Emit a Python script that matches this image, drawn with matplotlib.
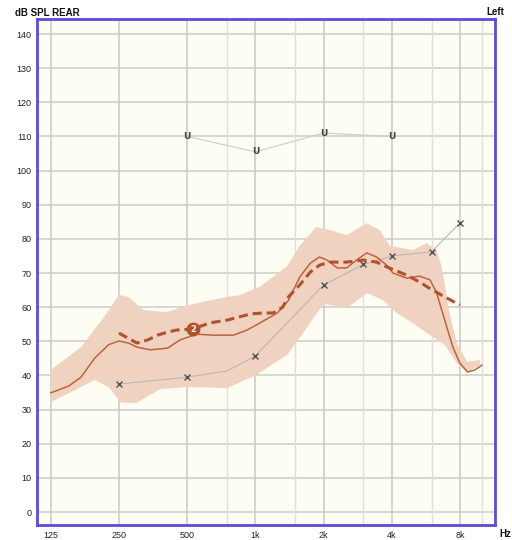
import numpy as np
import matplotlib
matplotlib.use("Agg")
from matplotlib import pyplot as plt

# ---- data ----
octave_ticks = [125, 250, 500, 1000, 2000, 4000, 8000]
octave_labels = ["125", "250", "500", "1k", "2k", "4k", "8k"]
half_octaves = [750, 1500, 3000, 6000, 10000]
db_ticks = list(range(0, 150, 10))

# uncomfortable levels (U)
ucl_f = [500, 1000, 2000, 4000]
ucl_db = [110, 105.5, 111, 110]

# thresholds (x) - 750 Hz is a bend point without marker
thr_f = [250, 500, 750, 1000, 2000, 3000, 4000, 6000, 8000]
thr_db = [37.5, 39.5, 41.3, 45.7, 66.5, 72.5, 75, 76.2, 84.7]
thr_marker_f = [250, 500, 1000, 2000, 3000, 4000, 6000, 8000]
thr_marker_db = [37.5, 39.5, 45.7, 66.5, 72.5, 75, 76.2, 84.7]

# measured response (solid)
meas_f = [125, 150, 170, 195, 225, 250, 275, 300, 345, 410, 465, 550, 650, 800,
          920, 1050, 1250, 1400, 1570, 1750, 1920, 2070, 2300, 2530, 2800, 3100,
          3430, 3800, 4050, 4650, 5300, 5900, 6300, 6650, 7000, 7450, 8000,
          8650, 9300, 10000]
meas_db = [34.9, 36.9, 39.5, 45, 49, 50.1, 49.5, 48.3, 47.5, 48, 50.4, 52.1, 51.8,
           51.8, 53.3, 55.4, 58.3, 62, 68.8, 72.9, 74.7, 73.8, 71.5, 71.5, 73.8,
           75.9, 74.7, 72.3, 70, 68.5, 69.1, 68, 64.4, 59.2, 54.2, 48.3, 43.6,
           41, 41.6, 43]

# target (dashed)
targ_f = [250, 300, 335, 370, 410, 450, 530, 630, 750, 950, 1080, 1200, 1320, 1400,
          1570, 1750, 1920, 2130, 2530, 3000, 3430, 3800, 4650, 5300, 6050, 7000, 8000]
targ_db = [52.4, 49.5, 50.4, 51.8, 52.7, 53.3, 53.6, 55.4, 56.2, 58, 58.3, 58.3, 60,
           63, 66.5, 70.3, 72.3, 73.2, 73.2, 73.8, 73.2, 71.8, 69.4, 67.4, 65, 62.7, 60.6]

# shaded range
up_f = [125, 170, 215, 250, 275, 320, 405, 500, 630, 750, 850, 1050, 1380, 1570,
        1860, 2130, 2530, 3100, 3540, 3920, 4950, 5700, 6300, 6650, 7200, 7750, 8600, 9800]
up_db = [41.6, 48.3, 57.1, 63.6, 63, 59.2, 58.5, 60.5, 62, 63, 63.5, 66, 72, 78,
         83.5, 82.6, 81.1, 84.6, 82.6, 78, 76.7, 78.8, 76.7, 71.8, 58.3, 49.5, 44, 44.5]
lo_f = [125, 160, 195, 225, 255, 300, 380, 500, 750, 1000, 1380, 1570, 2000, 2530,
        3130, 3650, 4200, 4950, 6050, 6850, 7750, 8600, 9800]
lo_db = [32.2, 35.7, 38.7, 36.6, 32, 32, 36, 36.6, 36.3, 40, 46, 51, 61, 59.8,
         64.1, 62.1, 58.3, 55.4, 51.3, 49, 43.6, 41, 43]

rust = "#c0623c"
dark_rust = "#b4502a"

fig = plt.figure(figsize=(5.12, 5.4), dpi=100)
ax = fig.add_axes([0.0723, 0.0278, 0.8945, 0.937])
ax.set_facecolor("#fdfdf3")
ax.set_xscale("log")
ax.set_xlim(108.7, 11430)
ax.set_ylim(-3.8, 144.4)

for y in db_ticks:
    ax.axhline(y, color="#cccccc", lw=1.1, zorder=0)
for f in octave_ticks:
    ax.axvline(f, color="#c8c8c8", lw=1.1, zorder=0)
for f in half_octaves:
    ax.axvline(f, color="#e0e0dc", lw=1.0, zorder=0)

ax.fill(np.concatenate([up_f, lo_f[::-1]]), np.concatenate([up_db, lo_db[::-1]]),
        color="#efd3c0", lw=0, zorder=1)

ax.plot(thr_f, thr_db, color="#b8b8b8", lw=0.8, zorder=2)
ax.plot(thr_marker_f, thr_marker_db, ls="none", marker="x", ms=5, mew=1.0,
        color="#505050", zorder=5)

ax.plot(meas_f, meas_db, color=rust, lw=1.1, zorder=3)
ax.plot(targ_f, targ_db, color=dark_rust, lw=2.2, ls=(0, (3, 1.6)), zorder=4)

ax.plot(530, 53.6, marker="o", ms=9, color=dark_rust, mec=dark_rust, zorder=6)
ax.text(530, 53.6, "2", color="white", fontsize=6, fontweight="bold",
        ha="center", va="center", zorder=7)

ax.plot(ucl_f, ucl_db, color="#cccccc", lw=0.8, zorder=2)
for f, d in zip(ucl_f, ucl_db):
    ax.text(f, d, "U", color="#444444", fontsize=6.5, fontweight="bold",
            ha="center", va="center", zorder=5)

ax.set_xticks(octave_ticks)
ax.set_xticklabels(octave_labels)
ax.xaxis.set_minor_locator(matplotlib.ticker.NullLocator())
ax.set_yticks(db_ticks)
ax.tick_params(length=0, labelsize=6.5, labelcolor="#222222", pad=4)
for lab in ax.get_xticklabels() + ax.get_yticklabels():
    lab.set_family("Liberation Sans")

for s in ax.spines.values():
    s.set_color("#5a46f5")
    s.set_linewidth(2)

fig.text(15 / 512, 1 - 12.5 / 540, "dB SPL REAR", fontsize=7, fontweight="bold",
         family="Liberation Sans", ha="left", va="center", color="#111111")
fig.text(504 / 512, 1 - 12 / 540, "Left", fontsize=7, fontweight="bold",
         family="Liberation Sans", ha="right", va="center", color="#111111")
fig.text(499 / 512, 1 - 534 / 540, "Hz", fontsize=7, fontweight="bold",
         family="Liberation Sans", ha="left", va="center", color="#111111")

fig.savefig("out.png", dpi=100, facecolor="white")
